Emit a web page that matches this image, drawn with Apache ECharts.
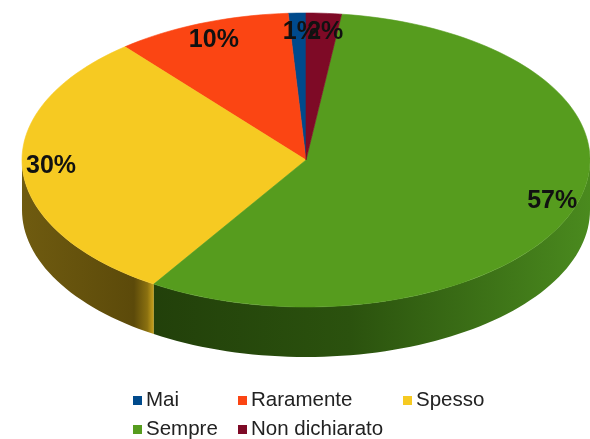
<!DOCTYPE html>
<html>
<head>
<meta charset="utf-8">
<script src="https://cdn.jsdelivr.net/npm/echarts@6/dist/echarts.min.js"></script>
<style>
  html, body { margin: 0; padding: 0; background: #fff; }
  #main { width: 590px; height: 439px; }
</style>
</head>
<body>
<div id="main"></div>
<script>
// dati
var categories = ['Mai', 'Raramente', 'Spesso', 'Sempre', 'Non dichiarato'];
var values = [1, 10, 30, 57, 2];

// colori (faccia superiore / lato)
var topColors = ['#004a8c', '#fb4513', '#f6ca22', '#569c1e', '#7e0a26'];
var sideStops = [
  [[0, '#002a50'], [1, '#003a70']],
  [[0, '#8a250a'], [1, '#a8300d']],
  [[0, '#6f5b10'], [0.85, '#5c4a0a'], [0.95, '#8a7010'], [1, '#c9a21c']],
  [[0, '#22400a'], [0.45, '#2b520e'], [1, '#4a8a1e']],
  [[0, '#45000f'], [1, '#55001a']]
];

// geometria della torta
var CX = 306, CY = 160, RX = 284, RY = 147, H = 50;

var total = values.reduce(function (a, b) { return a + b; }, 0);
var starts = [];
var acc = 0;
for (var k = 0; k < values.length; k++) {
  starts.push(acc);
  acc += values[k] / total;
}

// punto sul bordo: f = frazione, partenza in alto, senso antiorario
function pt(f, r, dy) {
  var a = 2 * Math.PI * f;
  return [CX - r * RX * Math.sin(a), CY - r * RY * Math.cos(a) + dy];
}

function arc(f1, f2, dy) {
  var n = Math.max(2, Math.ceil(Math.abs(f2 - f1) * 200));
  var pts = [];
  for (var j = 0; j <= n; j++) {
    pts.push(pt(f1 + (f2 - f1) * j / n, 1, dy));
  }
  return pts;
}

function sliceSeries(i) {
  return {
    type: 'custom',
    name: categories[i],
    coordinateSystem: 'none',
    silent: true,
    itemStyle: { color: topColors[i] },
    data: [values[i]],
    renderItem: function (params, api) {
      var a = starts[i], b = starts[i] + values[i] / total;
      var children = [];
      // lato visibile (metà anteriore)
      var s0 = Math.max(a, 0.25), s1 = Math.min(b, 0.75);
      if (s1 > s0) {
        var p0 = pt(s0, 1, 0), p1 = pt(s1, 1, 0);
        var pts = arc(s0, s1, 0).concat(arc(s1, s0, H));
        children.push({
          type: 'polygon',
          shape: { points: pts },
          style: {
            fill: new echarts.graphic.LinearGradient(
              Math.min(p0[0], p1[0]), 0, Math.max(p0[0], p1[0]), 0,
              sideStops[i].map(function (s) { return { offset: s[0], color: s[1] }; }),
              true
            )
          }
        });
      }
      // faccia superiore
      children.push({
        type: 'polygon',
        shape: { points: [[CX, CY]].concat(arc(a, b, 0)) },
        style: { fill: topColors[i], stroke: topColors[i], lineWidth: 0.6 }
      });
      return { type: 'group', children: children };
    }
  };
}

var series = [];
for (var i = 0; i < categories.length; i++) {
  series.push(sliceSeries(i));
}

// etichette percentuali
series.push({
  type: 'custom',
  name: 'etichette',
  coordinateSystem: 'none',
  silent: true,
  data: values,
  renderItem: function (params, api) {
    var idx = params.dataIndex;
    var fm = starts[idx] + values[idx] / total / 2;
    var a = 2 * Math.PI * fm;
    var x = CX - 0.91 * RX * Math.sin(a) + 3;
    var y = CY - 0.86 * RY * Math.cos(a) - 2;
    return {
      type: 'text',
      x: x,
      y: y,
      style: {
        text: Math.round(values[idx] / total * 100) + '%',
        fontSize: 25,
        fontWeight: 'bold',
        fontFamily: 'Liberation Sans',
        fill: '#111',
        align: 'center',
        verticalAlign: 'middle'
      }
    };
  }
});

var legendCommon = {
  orient: 'vertical',
  top: 390,
  height: 70,
  padding: 0,
  icon: 'rect',
  itemWidth: 9,
  itemHeight: 9,
  itemGap: 8,
  selectedMode: false,
  textStyle: {
    fontFamily: 'Liberation Sans', fontSize: 20.5, color: '#222',
    lineHeight: 20, padding: [0, 0, 0, -1]
  }
};

var myChart = echarts.init(document.getElementById('main'));
myChart.setOption({
  backgroundColor: '#fff',
  animation: false,
  legend: [
    Object.assign({ left: 133, data: ['Mai', 'Sempre'] }, legendCommon),
    Object.assign({ left: 238, data: ['Raramente', 'Non dichiarato'] }, legendCommon),
    Object.assign({ left: 403, data: ['Spesso'] }, legendCommon)
  ],
  series: series
});
</script>
</body>
</html>
